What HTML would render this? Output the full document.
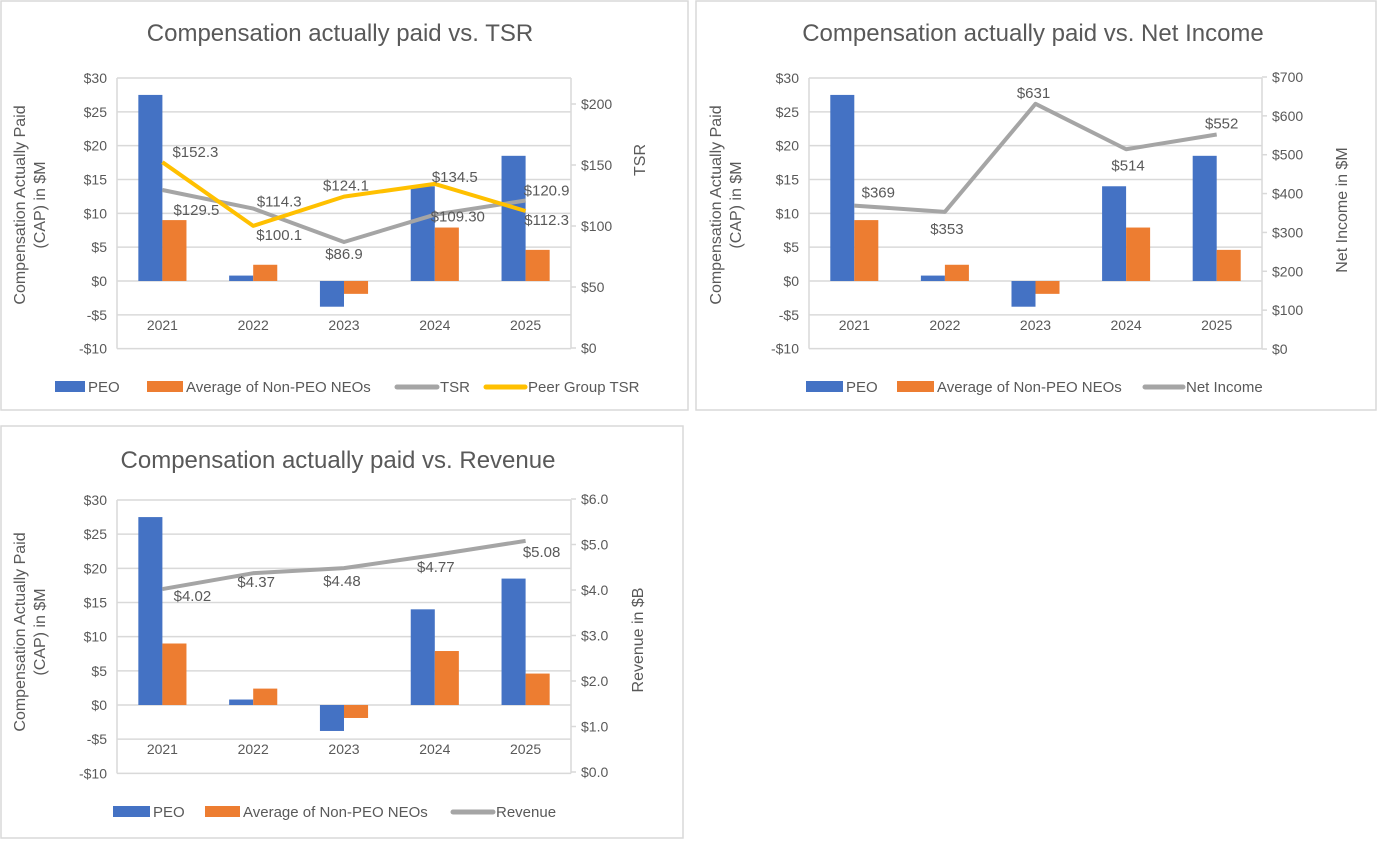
<!DOCTYPE html>
<html><head><meta charset="utf-8"><style>
body{margin:0;background:#fff;}
svg{display:block;font-family:"Liberation Sans",sans-serif;}
text{fill:#595959;}
</style></head><body>
<svg id="s" width="1378" height="842" viewBox="0 0 1378 842"></svg>
<script>
const years=["2021","2022","2023","2024","2025"];
const peo=[27.5,0.8,-3.8,14.0,18.5];
const neo=[9.0,2.4,-1.9,7.9,4.6];
const tsr=[129.5,114.3,86.9,109.3,120.9];
const peerTsr=[152.3,100.1,124.1,134.5,112.3];
const tsrLabels=["$129.5","$114.3","$86.9","$109.30","$120.9"];
const peerLabels=["$152.3","$100.1","$124.1","$134.5","$112.3"];
const netIncome=[369,353,631,514,552];
const niLabels=["$369","$353","$631","$514","$552"];
const revenue=[4.02,4.37,4.48,4.77,5.08];
const revLabels=["$4.02","$4.37","$4.48","$4.77","$5.08"];
const leftTicks=[30,25,20,15,10,5,0,-5,-10];
const leftTickLabels=["$30","$25","$20","$15","$10","$5","$0","-$5","-$10"];
const tsrTicks=[0,50,100,150,200];
const tsrTickLabels=["$0","$50","$100","$150","$200"];
const niTicks=[0,100,200,300,400,500,600,700];
const niTickLabels=["$0","$100","$200","$300","$400","$500","$600","$700"];
const revTicks=[0,1,2,3,4,5,6];
const revTickLabels=["$0.0","$1.0","$2.0","$3.0","$4.0","$5.0","$6.0"];

const S=document.getElementById('s');
const NS="http://www.w3.org/2000/svg";
function mk(tag,attrs,parent){const e=document.createElementNS(NS,tag);for(const k in attrs)e.setAttribute(k,attrs[k]);(parent||S).appendChild(e);return e;}
function txt(str,attrs,parent){const e=mk('text',attrs,parent);e.textContent=str;return e;}

function chart(c){
  const g=mk('g',{});
  
  
  const p=mk('rect',{x:c.px,y:c.py,width:c.pw,height:c.ph,fill:'#fff',stroke:'#d9d9d9','stroke-width':1.5},g);
  
  
  const t=txt(c.title,{x:c.titleX,y:c.titleY,'font-size':24,'text-anchor':'middle'},g);
  
  
  const yL=v=>c.y0+(v)*(c.y30-c.y0)/30;
  const yR=v=>c.r0+(v-c.rMin)*(c.rTop-c.r0)/(c.rTopVal-c.rMin);
  const band=(c.right-c.left)/years.length;
  const xC=i=>c.left+band*(i+0.5);
  const yBot=yL(-10);
  leftTicks.forEach((v,i)=>{
    const l=mk('line',{x1:c.left,x2:c.right,y1:yL(v),y2:yL(v),stroke:'#d9d9d9','stroke-width':1.5},g);
    
    
    const tl=txt(leftTickLabels[i],{x:c.left-10,y:yL(v)+5,'font-size':14,'text-anchor':'end'},g);
    
    
  });
  mk('line',{x1:c.left,x2:c.left,y1:yL(30),y2:yBot,stroke:'#d9d9d9','stroke-width':1.5},g);
  mk('line',{x1:c.right,x2:c.right,y1:yL(30),y2:yBot,stroke:'#d9d9d9','stroke-width':1.5},g);
  c.rTicks.forEach((v,i)=>{
    mk('line',{x1:c.right,x2:c.right+5,y1:yR(v),y2:yR(v),stroke:'#d9d9d9','stroke-width':1.5},g);
    const tl=txt(c.rTickLabels[i],{x:c.right+10,y:yR(v)+5,'font-size':14},g);
    
    
  });
  const bw=band*0.265;
  years.forEach((yr,i)=>{
    [[peo,'#4472c4',-bw],[neo,'#ed7d31',0]].forEach(([arr,col,off],k)=>{
      const v=arr[i];const y1=yL(Math.max(v,0)),y2=yL(Math.min(v,0));
      const b=mk('rect',{x:xC(i)+off,y:y1,width:bw,height:y2-y1,fill:col},g);
      
      
    });
    const yl=txt(yr,{x:xC(i),y:yL(-5)+15,'font-size':14,'text-anchor':'middle'},g);
    
    
  });
  c.series.forEach(s=>{
    const pts=s.data.map((v,i)=>xC(i)+','+yR(v)).join(' ');
    const pl=mk('polyline',{points:pts,fill:'none',stroke:s.color,'stroke-width':4,'stroke-linejoin':'round'},g);
    
    
  });
  c.series.forEach(s=>{
    s.data.forEach((v,i)=>{
      const o=s.off[i];
      const dl=txt(s.labels[i],{x:xC(i)+o[0],y:yR(v)+o[1],'font-size':15,'text-anchor':'middle',fill:'#404040'},g);
      
      
    });
  });
  const at=txt('',{transform:`translate(${c.ltX},${c.ltY}) rotate(-90)`,'font-size':16,'text-anchor':'middle'},g);
  
  
  const t1=mk('tspan',{x:0,y:-10},at);t1.textContent='Compensation Actually Paid';
  const t2=mk('tspan',{x:0,y:10},at);t2.textContent='(CAP) in $M';
  const rt=txt(c.rTitle,{transform:`translate(${c.rtX},${c.rtY}) rotate(-90)`,'font-size':16,'text-anchor':'middle'},g);
  
  
  c.legend.forEach(le=>{
    let sw;
    if(le.line) sw=mk('line',{x1:le.x,x2:le.x+le.w,y1:c.legY-5,y2:c.legY-5,stroke:le.color,'stroke-width':5,'stroke-linecap':'round'},g);
    else sw=mk('rect',{x:le.x,y:c.legY-11,width:le.w,height:11,fill:le.color},g);
    
    
    const lt=txt(le.label,{x:le.x+le.w+3,y:c.legY,'font-size':15},g);
    
    
  });
}

chart({name:'cap-vs-tsr-chart',px:1,py:1,pw:687,ph:409,title:'Compensation actually paid vs. TSR',titleX:340,titleY:41,
  left:117,right:571,y30:78,y0:281,
  r0:348,rMin:0,rTop:104,rTopVal:200,rTicks:tsrTicks,rTickLabels:tsrTickLabels,
  series:[
    {name:'tsr',data:tsr,labels:tsrLabels,color:'#a5a5a5',off:[[34,25],[26,-2],[0,17],[23,7],[21,-5]]},
    {name:'peer-tsr',data:peerTsr,labels:peerLabels,color:'#ffc000',off:[[33,-5],[26,14],[2,-6],[20,-2],[21,14]]}
  ],
  ltX:35,ltY:205,rTitle:'TSR',rtX:645,rtY:160,legY:392,
  legend:[{x:55,w:30,color:'#4472c4',label:'PEO'},{x:147,w:36,color:'#ed7d31',label:'Average of Non-PEO NEOs'},
    {x:397,w:40,color:'#a5a5a5',label:'TSR',line:1},{x:486,w:39,color:'#ffc000',label:'Peer Group TSR',line:1}]
});
chart({name:'cap-vs-net-income-chart',px:696,py:1,pw:680,ph:409,title:'Compensation actually paid vs. Net Income',titleX:1033,titleY:41,
  left:809,right:1262,y30:78,y0:281,
  r0:349,rMin:0,rTop:77,rTopVal:700,rTicks:niTicks,rTickLabels:niTickLabels,
  series:[{name:'net-income',data:netIncome,labels:niLabels,color:'#a5a5a5',off:[[24,-8],[2,22],[-2,-6],[2,21],[5,-6]]}],
  ltX:731,ltY:205,rTitle:'Net Income in $M',rtX:1347,rtY:210,legY:392,
  legend:[{x:806,w:37,color:'#4472c4',label:'PEO'},{x:897,w:37,color:'#ed7d31',label:'Average of Non-PEO NEOs'},
    {x:1145,w:38,color:'#a5a5a5',label:'Net Income',line:1}]
});
chart({name:'cap-vs-revenue-chart',px:1,py:426,pw:682,ph:412,title:'Compensation actually paid vs. Revenue',titleX:338,titleY:468,
  left:117,right:571,y30:500,y0:705,
  r0:772,rMin:0,rTop:499,rTopVal:6,rTicks:revTicks,rTickLabels:revTickLabels,
  series:[{name:'revenue',data:revenue,labels:revLabels,color:'#a5a5a5',off:[[30,12],[3,14],[-2,18],[1,17],[16,16]]}],
  ltX:35,ltY:632,rTitle:'Revenue in $B',rtX:643,rtY:640,legY:817,
  legend:[{x:113,w:37,color:'#4472c4',label:'PEO'},{x:205,w:35,color:'#ed7d31',label:'Average of Non-PEO NEOs'},
    {x:453,w:40,color:'#a5a5a5',label:'Revenue',line:1}]
});
</script>
</body></html>
